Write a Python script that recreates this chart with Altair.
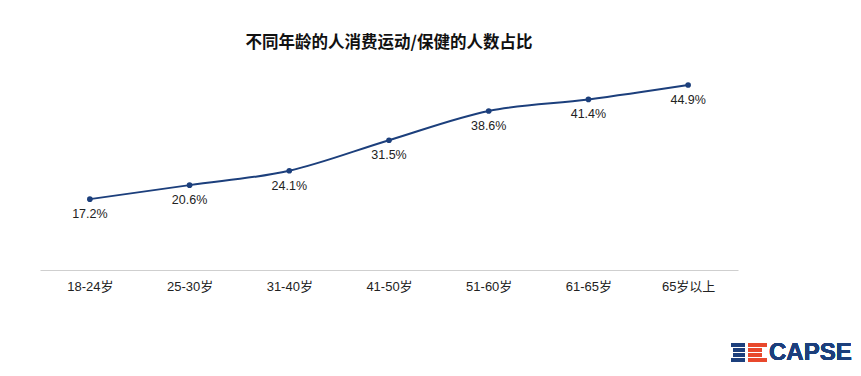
import altair as alt
import pandas as pd

title = "不同年龄的人消费运动/保健的人数占比"
ages = ["18-24岁", "25-30岁", "31-40岁", "41-50岁", "51-60岁", "61-65岁", "65岁以上"]
shares = [17.2, 20.6, 24.1, 31.5, 38.6, 41.4, 44.9]

df = pd.DataFrame({"age": ages, "share": shares})
df["label"] = [f"{v:.1f}%" for v in shares]

FONT = "Liberation Sans, Arial, Noto Sans CJK SC"
NAVY = "#1c3f7c"

x = alt.X("age:N", sort=ages, title=None,
          scale=alt.Scale(paddingInner=0, paddingOuter=0),
          axis=alt.Axis(labelAngle=0, ticks=False, domainColor="#cfcfcf", domainWidth=1,
                        labelFont=FONT, labelFontSize=13, labelColor="#222222",
                        labelPadding=10, grid=False))
y = alt.Y("share:Q", title=None, scale=alt.Scale(domain=[0, 50], nice=False), axis=None)

base = alt.Chart(df).encode(x=x, y=y)
line = base.mark_line(color=NAVY, strokeWidth=2, interpolate="monotone")
pts = base.mark_circle(color=NAVY, size=32, opacity=1)
labels = base.mark_text(dy=15, font=FONT, fontSize=12.5, color="#222222").encode(text="label:N")

# logo decoration
logo_layers = []
rows = [(281, 691, 705, 708, 727), (286, 693, 705, 708, 722), (291, 693, 705, 708, 722), (296, 691, 705, 708, 727)]
for yy, b0, b1, r0, r1 in rows:
    logo_layers.append(alt.Chart(df).mark_rule(color=NAVY, strokeWidth=3).encode(
        x=alt.value(b0), x2=alt.value(b1), y=alt.value(yy)))
    logo_layers.append(alt.Chart(df).mark_rule(color="#e8482c", strokeWidth=3).encode(
        x=alt.value(r0), x2=alt.value(r1), y=alt.value(yy)))
logo_text = alt.Chart(df).mark_text(text="CAPSE", align="left", baseline="middle", font=FONT,
                                    fontSize=24, fontWeight="bold", color=NAVY).encode(
    x=alt.value(729), y=alt.value(289))

chart = alt.layer(line, pts, labels, *logo_layers, logo_text).properties(
    width=698, height=206,
    background="white",
    title=alt.TitleParams(title, font="Noto Sans CJK SC", fontSize=16.5, fontWeight="bold",
                          color="#111111", anchor="middle", offset=13),
    autosize=alt.AutoSizeParams(type="none"),
    padding={"left": 32, "top": 56, "right": 115, "bottom": 98},
).configure_view(stroke="transparent", strokeWidth=0)

chart.save("out.html", embed_options={"renderer": "svg", "actions": False})
